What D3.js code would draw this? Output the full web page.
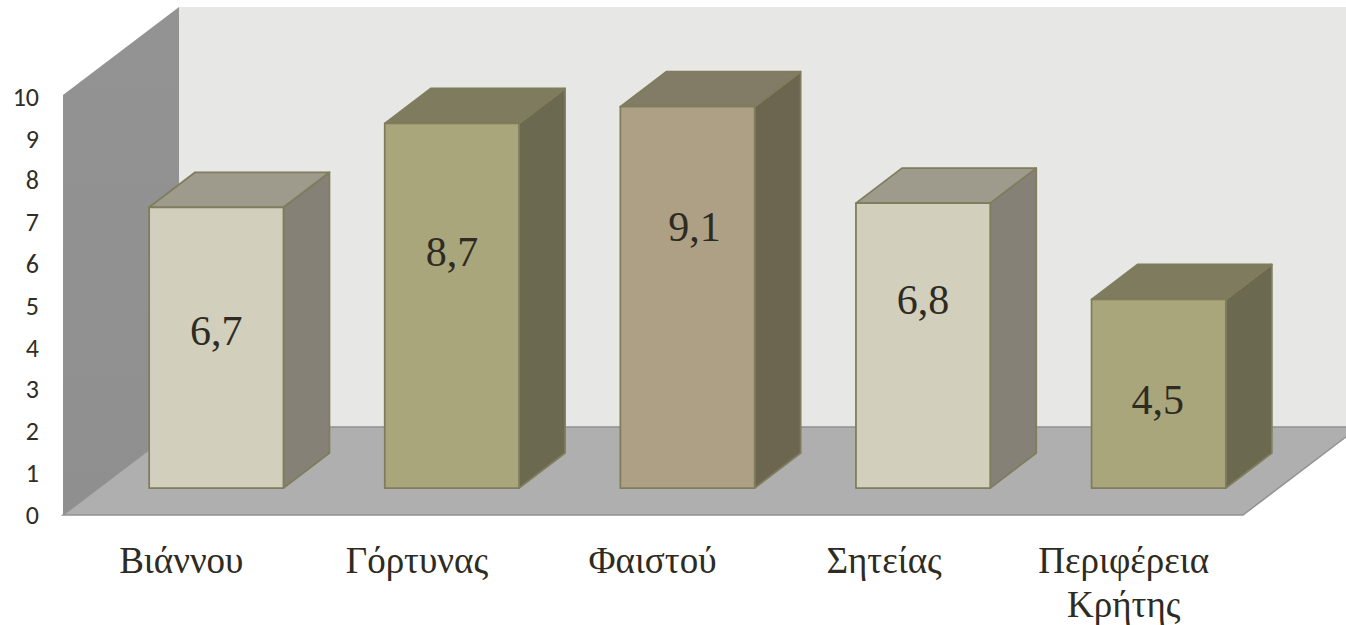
<!DOCTYPE html>
<html>
<head>
<meta charset="utf-8">
<script src="https://cdn.jsdelivr.net/npm/d3@7"></script>
<style>
html,body{margin:0;padding:0;background:#fff;overflow:hidden}
svg{display:block}
</style>
</head>
<body>
<svg id="chart" width="1346" height="625"></svg>
<script>
const categories = ["Βιάννου", "Γόρτυνας", "Φαιστού", "Σητείας", "Περιφέρεια Κρήτης"];
const values = [6.7, 8.7, 9.1, 6.8, 4.5];
const valueLabels = ["6,7", "8,7", "9,1", "6,8", "4,5"];
const yTicks = [0, 1, 2, 3, 4, 5, 6, 7, 8, 9, 10];

// layout (not data)
const plot = {x0: 63, x1: 1243, yBottom: 515, yTop: 95};
const wallD = {x: 116, y: 88};
const barD = {x: 46, y: 35};
const barBase = 488;
const palette = [
  {front: "#d2cfbd", top: "#9e9b8d", side: "#858176"},
  {front: "#a9a67c", top: "#7f7b5e", side: "#6b6950"},
  {front: "#aea084", top: "#827b66", side: "#6c6651"}
];
const stroke = "#7f7d5c";
const labelShiftY = [-17, -54, -71, -46, 6];   // manual data-label placement
const labelShiftX = [0, 0, 7, 0, -1];
const catNudge = [0, 0, 0, -4, 0];
const catFont = "'Liberation Serif','Times New Roman',serif";

const svg = d3.select("#chart");
const defs = svg.append("defs");
const wallGrad = defs.append("linearGradient").attr("id", "wallGrad")
  .attr("x1", 0).attr("y1", 0).attr("x2", 0).attr("y2", 1);
wallGrad.append("stop").attr("offset", 0).attr("stop-color", "#939393");
wallGrad.append("stop").attr("offset", 1).attr("stop-color", "#8f8f8f");

const yLabels = d3.scaleLinear().domain([0, 10]).range([515, 97]);
const barH = d3.scaleLinear().domain([0, 10]).range([0, 419]);
const x = d3.scaleBand().domain(categories).range([98.5, 1276.5]).paddingInner(0.43).paddingOuter(0.215);

const poly = pts => pts.map(p => p.join(",")).join(" ");

// back wall
svg.append("polygon").attr("fill", "#e7e7e5")
  .attr("points", poly([[plot.x0 + wallD.x, plot.yTop - wallD.y], [plot.x1 + wallD.x, plot.yTop - wallD.y],
    [plot.x1 + wallD.x, plot.yBottom - wallD.y], [plot.x0 + wallD.x, plot.yBottom - wallD.y]]));
// floor
svg.append("polygon").attr("fill", "#afafaf").attr("stroke", "#939393").attr("stroke-width", 1.5)
  .attr("points", poly([[plot.x0, plot.yBottom], [plot.x1, plot.yBottom],
    [plot.x1 + wallD.x, plot.yBottom - wallD.y], [plot.x0 + wallD.x, plot.yBottom - wallD.y]]));
// left wall
svg.append("polygon").attr("fill", "url(#wallGrad)")
  .attr("points", poly([[plot.x0, plot.yBottom], [plot.x0, plot.yTop],
    [plot.x0 + wallD.x, plot.yTop - wallD.y], [plot.x0 + wallD.x, plot.yBottom - wallD.y]]));

// y axis
const yAxis = d3.axisLeft(yLabels).tickValues(yTicks).tickSize(0).tickPadding(0).tickFormat(d3.format("d"));
const yG = svg.append("g").attr("transform", "translate(39,0)").call(yAxis);
yG.select(".domain").remove();
yG.selectAll("text").attr("fill", "#312e25")
  .style("font-family", "Carlito,Lato,'Open Sans',sans-serif").style("font-size", "26px");

// bars
const bars = svg.selectAll("g.bar").data(values).enter().append("g").attr("class", "bar");
bars.each(function (v, i) {
  const g = d3.select(this), c = palette[i % 3];
  const l = x(categories[i]), r = l + x.bandwidth();
  const t = barBase - barH(v), b = barBase;
  const common = s => s.attr("stroke", stroke).attr("stroke-width", 1.75).attr("stroke-linejoin", "round");
  g.append("polygon").attr("fill", c.side).call(common)
    .attr("points", poly([[r, t], [r + barD.x, t - barD.y], [r + barD.x, b - barD.y], [r, b]]));
  g.append("polygon").attr("fill", c.top).call(common)
    .attr("points", poly([[l, t], [l + barD.x, t - barD.y], [r + barD.x, t - barD.y], [r, t]]));
  g.append("rect").attr("fill", c.front).call(common)
    .attr("x", l).attr("y", t).attr("width", r - l).attr("height", b - t);
  g.append("text").text(valueLabels[i])
    .attr("x", (l + r) / 2 + labelShiftX[i]).attr("y", (t + b) / 2 + labelShiftY[i])
    .attr("dy", "0.35em").attr("text-anchor", "middle")
    .attr("fill", "#2e2b22").style("font-family", catFont).style("font-size", "42px");
});

// category labels
const catOffset = -35;
const cats = svg.selectAll("text.cat").data(categories).enter().append("text").attr("class", "cat")
  .attr("text-anchor", "middle").attr("fill", "#2e2b22")
  .style("font-family", catFont).style("font-size", "37px");
cats.each(function (d, i) {
  const t = d3.select(this), cx = x(d) + x.bandwidth() / 2 + catOffset + catNudge[i];
  d.split(" ").forEach((w, j) => t.append("tspan").attr("x", cx).attr("y", 573 + j * 44).text(w));
});
</script>
</body>
</html>
